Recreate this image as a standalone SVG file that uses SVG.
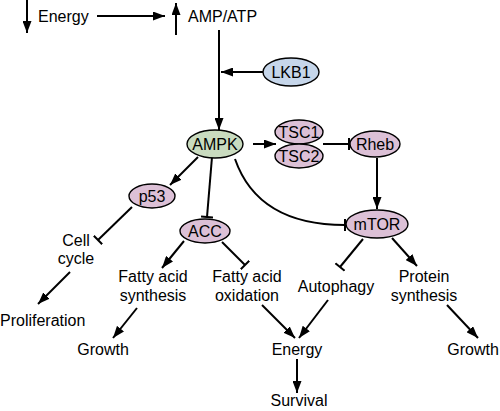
<svg xmlns="http://www.w3.org/2000/svg" width="500" height="411" viewBox="0 0 500 411">
<defs>
<marker id="ah" viewBox="0 0 12 9" refX="12" refY="4.5" markerWidth="12" markerHeight="9" markerUnits="userSpaceOnUse" orient="auto">
<path d="M0,0 L12,4.5 L0,9 Z" fill="#000"/>
</marker>
<marker id="bar" viewBox="0 0 4 12" refX="2" refY="6" markerWidth="4" markerHeight="12" markerUnits="userSpaceOnUse" orient="auto">
<rect x="1" y="0" width="2" height="12" fill="#000"/>
</marker>
</defs>
<style>
text{font-family:"Liberation Sans",Arial,sans-serif;font-size:16px;fill:#000}
.c{text-anchor:middle}
.ln{stroke:#000;stroke-width:2;fill:none}
.a{marker-end:url(#ah)}
.b{marker-end:url(#bar)}
ellipse{stroke:#000;stroke-width:1.4}
.blue{fill:#c6d6ea}
.green{fill:#c9dbbf}
.pink{fill:#dcc0d6}
</style>
<rect width="500" height="411" fill="#fff"/>
<g id="connectors">
<line class="ln a" x1="27" y1="0" x2="27" y2="33"/>
<line class="ln a" x1="97" y1="16" x2="165" y2="16"/>
<line class="ln a" x1="176" y1="35" x2="176" y2="3"/>
<line class="ln a" x1="219" y1="30" x2="219" y2="130"/>
<line class="ln a" x1="263" y1="72" x2="221" y2="72"/>
<line class="ln a" x1="253" y1="144" x2="276" y2="144"/>
<line class="ln b" x1="323" y1="144" x2="349" y2="144"/>
<line class="ln a" x1="377" y1="158" x2="377" y2="209"/>
<path class="ln b" d="M235,159 Q258,225 345,225"/>
<line class="ln a" x1="198" y1="157" x2="170" y2="185"/>
<line class="ln b" x1="212" y1="157" x2="207" y2="217"/>
<line class="ln b" x1="132" y1="207" x2="98" y2="240"/>
<line class="ln a" x1="70" y1="272" x2="38" y2="304"/>
<line class="ln a" x1="184" y1="241" x2="162" y2="268"/>
<line class="ln a" x1="137" y1="308" x2="113" y2="338"/>
<line class="ln b" x1="222" y1="242" x2="245" y2="265"/>
<line class="ln b" x1="363" y1="239" x2="340" y2="267"/>
<line class="ln a" x1="392" y1="238" x2="417" y2="266"/>
<line class="ln a" x1="447" y1="305" x2="478" y2="338"/>
<line class="ln a" x1="262" y1="305" x2="295" y2="338"/>
<line class="ln a" x1="328" y1="300" x2="299" y2="338"/>
<line class="ln a" x1="297" y1="359" x2="297" y2="393"/>
</g>
<g id="energy-top"><text x="38" y="22">Energy</text></g>
<g id="ampatp"><text x="188" y="22">AMP/ATP</text></g>
<g id="lkb1"><ellipse class="blue" cx="291" cy="72" rx="28" ry="14"/><text class="c" x="291" y="78">LKB1</text></g>
<g id="ampk"><ellipse class="green" cx="215" cy="144" rx="28" ry="14"/><text class="c" x="215" y="150">AMPK</text></g>
<g id="tsc"><ellipse class="pink" cx="299" cy="132" rx="24" ry="12"/><ellipse class="pink" cx="299" cy="156" rx="24" ry="12"/><text class="c" x="299" y="138">TSC1</text><text class="c" x="299" y="162">TSC2</text></g>
<g id="rheb"><ellipse class="pink" cx="375" cy="144" rx="25" ry="13"/><text class="c" x="375" y="150">Rheb</text></g>
<g id="mtor"><ellipse class="pink" cx="377" cy="224" rx="31" ry="14"/><text class="c" x="377" y="230">mTOR</text></g>
<g id="p53"><ellipse class="pink" cx="152" cy="196" rx="23" ry="12"/><text class="c" x="152" y="202">p53</text></g>
<g id="acc"><ellipse class="pink" cx="205" cy="231" rx="25" ry="12"/><text class="c" x="205" y="237">ACC</text></g>
<g id="cellcycle"><text class="c" x="76" y="246">Cell</text><text class="c" x="76" y="264">cycle</text></g>
<g id="proliferation"><text x="0" y="326">Proliferation</text></g>
<g id="fas"><text class="c" x="153" y="282">Fatty acid</text><text class="c" x="153" y="301">synthesis</text></g>
<g id="growth1"><text class="c" x="103" y="355">Growth</text></g>
<g id="fao"><text class="c" x="247" y="282">Fatty acid</text><text class="c" x="247" y="301">oxidation</text></g>
<g id="autophagy"><text class="c" x="336" y="292">Autophagy</text></g>
<g id="protein"><text class="c" x="424" y="282">Protein</text><text class="c" x="424" y="301">synthesis</text></g>
<g id="growth2"><text class="c" x="473" y="355">Growth</text></g>
<g id="energy"><text class="c" x="297" y="355">Energy</text></g>
<g id="survival"><text class="c" x="299" y="406">Survival</text></g>
</svg>
